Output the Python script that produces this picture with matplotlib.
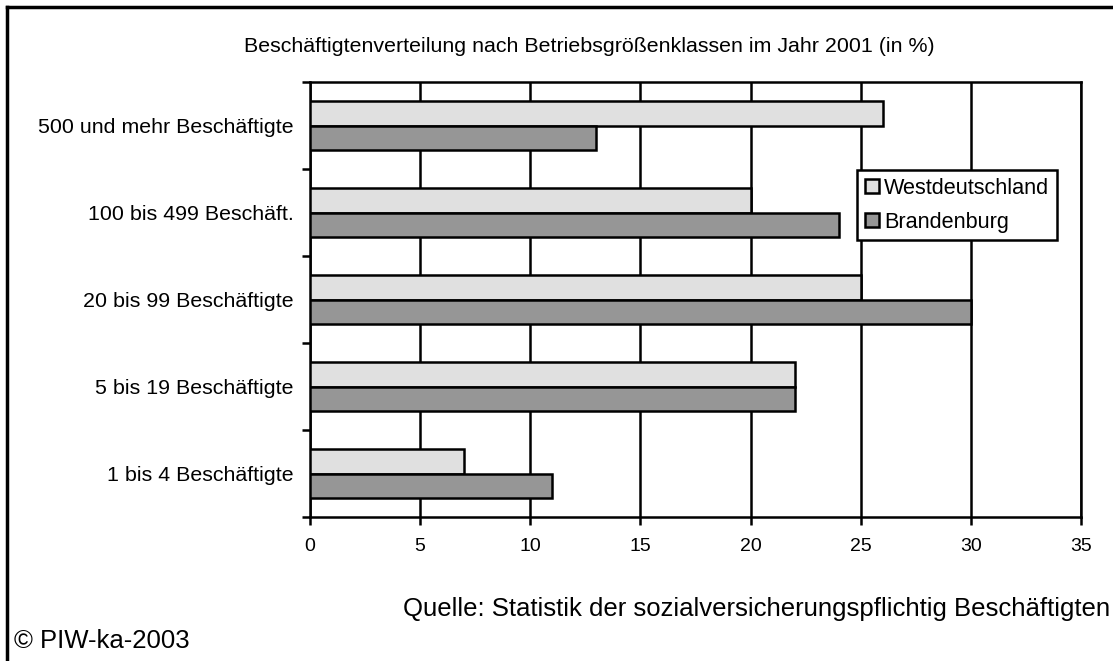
import matplotlib.pyplot as plt
import numpy as np

categories = ["1 bis 4 Beschäftigte", "5 bis 19 Beschäftigte", "20 bis 99 Beschäftigte",
              "100 bis 499 Beschäft.", "500 und mehr Beschäftigte"]
west = [7, 22, 25, 20, 26]
brandenburg = [11, 22, 30, 24, 13]
series_names = ["Westdeutschland", "Brandenburg"]
x_ticks = [0, 5, 10, 15, 20, 25, 30, 35]

plt.rcParams['font.family'] = ['Liberation Sans', 'DejaVu Sans']

W, H = 1113, 661
fig = plt.figure(figsize=(W / 100, H / 100), dpi=100)
ax = fig.add_axes([310 / W, 1 - 517 / H, (1081 - 310) / W, (517 - 82) / H])

y = np.arange(len(categories))
h = 0.287
ax.barh(y + h / 2, west, height=h, color="#e0e0e0", edgecolor="black", linewidth=1.8,
        label=series_names[0], zorder=3)
ax.barh(y - h / 2, brandenburg, height=h, color="#969696", edgecolor="black", linewidth=1.8,
        label=series_names[1], zorder=3)

ax.set_xlim(0, 35)
ax.set_ylim(-0.5, len(categories) - 0.5)
ax.set_xticks(x_ticks)
ax.set_xticklabels([str(t) for t in x_ticks], fontsize=14)
ax.xaxis.grid(True, color="black", linewidth=1.8, zorder=0)
ax.set_yticks(y)
ax.set_yticklabels(categories, fontsize=15.4)
ax.tick_params(axis="y", length=0, pad=12)
ax.set_yticks(np.arange(-0.5, len(categories)), minor=True)
ax.tick_params(axis="y", which="minor", length=6, width=1.8)
ax.tick_params(axis="x", length=6, width=1.8, pad=9)
for s in ax.spines.values():
    s.set_linewidth(1.8)

leg = ax.legend(loc="upper left", bbox_to_anchor=((857 - 310) / (1081 - 310), 1 - (170 - 82) / (517 - 82)),
                fontsize=15.6, frameon=True, fancybox=False, edgecolor="black", framealpha=1,
                handlelength=0.65, handleheight=0.65, handletextpad=0.25, borderpad=0.35,
                labelspacing=0.6, borderaxespad=0)
leg.get_frame().set_linewidth(1.8)
leg.set_zorder(5)

fig.text(589 / W, 1 - 46 / H, "Beschäftigtenverteilung nach Betriebsgrößenklassen im Jahr 2001 (in %)",
         ha="center", va="center", fontsize=15.4)
fig.text(1110 / W, 1 - 609 / H, "Quelle: Statistik der sozialversicherungspflichtig Beschäftigten",
         ha="right", va="center", fontsize=18.5)
fig.text(14 / W, 1 - 641 / H, "© PIW-ka-2003", ha="left", va="center", fontsize=18.5)

# outer frame
fig.add_artist(plt.Line2D([7 / W, 7 / W], [0, 1 - 7 / H], color="black", linewidth=2.5,
                          transform=fig.transFigure))
fig.add_artist(plt.Line2D([7 / W, 1], [1 - 7 / H, 1 - 7 / H], color="black", linewidth=2.5,
                          transform=fig.transFigure))

fig.savefig("out.png", dpi=100)
